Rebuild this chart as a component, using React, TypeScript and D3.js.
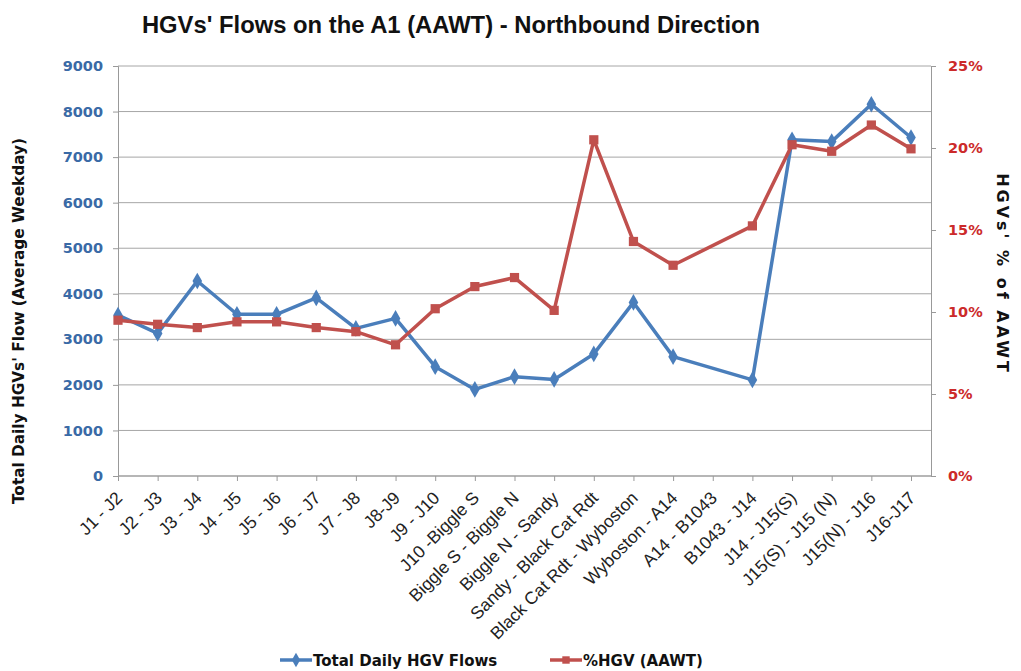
import { useEffect, useRef } from 'react';
import * as d3 from 'd3';

const categories = [
  'J1 - J2', 'J2 - J3', 'J3 - J4', 'J4 - J5', 'J5 - J6', 'J6 - J7', 'J7 - J8', 'J8-J9',
  'J9 - J10', 'J10 -Biggle S', 'Biggle S - Biggle N', 'Biggle N - Sandy',
  'Sandy - Black Cat Rdt', 'Black Cat Rdt - Wyboston', 'Wyboston - A14', 'A14 - B1043',
  'B1043 - J14', 'J14 - J15(S)', 'J15(S) - J15 (N)', 'J15(N) - J16', 'J16-J17',
];

// Total Daily HGV Flows (A14 - B1043 has no value)
const flows: (number | null)[] = [
  3530, 3130, 4280, 3550, 3550, 3910, 3240, 3460, 2400, 1900, 2180, 2120,
  2680, 3810, 2620, null, 2110, 7380, 7340, 8160, 7430,
];

// %HGV (AAWT)
const hgvPct: (number | null)[] = [
  9.5, 9.25, 9.05, 9.4, 9.4, 9.05, 8.8, 8.0, 10.2, 11.55, 12.1, 10.1,
  20.5, 14.3, 12.85, null, 15.25, 20.2, 19.8, 21.4, 19.95,
];

const leftTicks = [0, 1000, 2000, 3000, 4000, 5000, 6000, 7000, 8000, 9000];
const rightTicks = [0, 5, 10, 15, 20, 25];

const BLUE = '#4a7ebb';
const RED = '#c0504d';
const SANS = '"Liberation Sans", Arial, sans-serif';
const WIDE = '"DejaVu Sans", Verdana, sans-serif';

export default function App() {
  const ref = useRef<SVGSVGElement | null>(null);

  useEffect(() => {
    if (!ref.current) return;
    const svg = d3.select(ref.current);
    svg.selectAll('*').remove();

    const left = 118;
    const right = 931;
    const top = 66;
    const bottom = 476;

    const x = d3.scalePoint<string>().domain(categories).range([left, 911]);
    const yL = d3.scaleLinear().domain([0, 9000]).range([bottom, top]);
    const yR = d3.scaleLinear().domain([0, 25]).range([bottom, top]);

    svg.append('rect').attr('width', 1021).attr('height', 671).attr('fill', 'white');

    // Title
    svg.append('text')
      .attr('x', 451).attr('y', 33)
      .attr('text-anchor', 'middle')
      .attr('font-family', SANS)
      .attr('font-weight', 'bold')
      .attr('font-size', 23.8)
      .attr('fill', '#111')
      .text("HGVs' Flows on the A1 (AAWT) - Northbound Direction");

    // Gridlines
    svg.append('g')
      .selectAll('line')
      .data(leftTicks)
      .join('line')
      .attr('x1', left).attr('x2', right)
      .attr('y1', d => yL(d)).attr('y2', d => yL(d))
      .attr('stroke', '#a6a6a6')
      .attr('stroke-width', 1);

    // Left axis
    const gL = svg.append('g').attr('transform', `translate(${left},0)`)
      .call(d3.axisLeft(yL).tickValues(leftTicks).tickSize(5).tickPadding(10).tickFormat(d3.format('d')));
    gL.selectAll('line').attr('stroke', '#999');
    gL.select('.domain').attr('stroke', '#999');
    gL.selectAll('text')
      .attr('font-family', WIDE).attr('font-weight', 'bold').attr('font-size', 14.5)
      .attr('fill', '#3a6aa6');

    // Right axis
    const gR = svg.append('g').attr('transform', `translate(${right},0)`)
      .call(d3.axisRight(yR).tickValues(rightTicks).tickSize(5).tickPadding(12).tickFormat(d => `${d}%`));
    gR.selectAll('line').attr('stroke', '#999');
    gR.select('.domain').attr('stroke', '#999');
    gR.selectAll('text')
      .attr('font-family', WIDE).attr('font-weight', 'bold').attr('font-size', 14.5)
      .attr('fill', '#cc2a2a');

    // Bottom axis
    const gB = svg.append('g').attr('transform', `translate(0,${bottom})`)
      .call(d3.axisBottom(x).tickSize(5).tickSizeOuter(0));
    gB.select('.domain').attr('stroke', '#999').attr('d', `M${left},0H${right}`);
    gB.selectAll('line').attr('stroke', '#999');
    gB.selectAll('text')
      .attr('font-family', SANS).attr('font-size', 17.5).attr('fill', '#222')
      .attr('text-anchor', 'end')
      .attr('x', 0).attr('y', 0).attr('dy', 0)
      .attr('transform', 'translate(5,23) rotate(-45)');

    // Axis titles
    svg.append('text')
      .attr('transform', `translate(24,321) rotate(-90)`)
      .attr('text-anchor', 'middle')
      .attr('font-family', WIDE).attr('font-weight', 'bold').attr('font-size', 15.3)
      .attr('fill', '#111')
      .text("Total Daily HGVs' Flow (Average Weekday)");
    svg.append('text')
      .attr('transform', `translate(997,274) rotate(90)`)
      .attr('text-anchor', 'middle')
      .attr('font-family', WIDE).attr('font-weight', 'bold').attr('font-size', 16)
      .attr('letter-spacing', 3)
      .attr('fill', '#111')
      .text("HGVs' % of AAWT");

    const drawSeries = (vals: (number | null)[], y: d3.ScaleLinear<number, number>, color: string, shape: d3.SymbolType, size: number) => {
      const pts = categories
        .map((c, i) => ({ c, v: vals[i] }))
        .filter(d => d.v != null) as { c: string; v: number }[];
      const line = d3.line<{ c: string; v: number }>().x(d => x(d.c)!).y(d => y(d.v));
      svg.append('path')
        .datum(pts)
        .attr('d', line)
        .attr('fill', 'none')
        .attr('stroke', color)
        .attr('stroke-width', 3.5)
        .attr('stroke-linejoin', 'round');
      svg.append('g')
        .selectAll('path')
        .data(pts)
        .join('path')
        .attr('transform', d => `translate(${x(d.c)},${y(d.v)})`)
        .attr('d', d3.symbol(shape, size)())
        .attr('fill', color);
    };

    drawSeries(flows, yL, BLUE, d3.symbolDiamond, 80);
    drawSeries(hgvPct, yR, RED, d3.symbolSquare, 85);

    // Legend
    const legend = [
      { label: 'Total Daily HGV Flows', color: BLUE, shape: d3.symbolDiamond, size: 60, x: 280 },
      { label: '%HGV (AAWT)', color: RED, shape: d3.symbolSquare, size: 55, x: 550 },
    ];
    const lg = svg.append('g').selectAll('g').data(legend).join('g')
      .attr('transform', d => `translate(${d.x},660)`);
    lg.append('line').attr('x1', 0).attr('x2', 32).attr('stroke', d => d.color).attr('stroke-width', 3.5);
    lg.append('path').attr('transform', 'translate(16,0)').attr('d', d => d3.symbol(d.shape, d.size)()).attr('fill', d => d.color);
    lg.append('text').attr('x', 33).attr('y', 5.5)
      .attr('font-family', WIDE).attr('font-weight', 'bold').attr('font-size', 15).attr('fill', '#111')
      .text(d => d.label);
  }, []);

  return (
    <svg ref={ref} width={1021} height={671} style={{ position: 'absolute', left: 0, top: 0 }} />
  );
}
